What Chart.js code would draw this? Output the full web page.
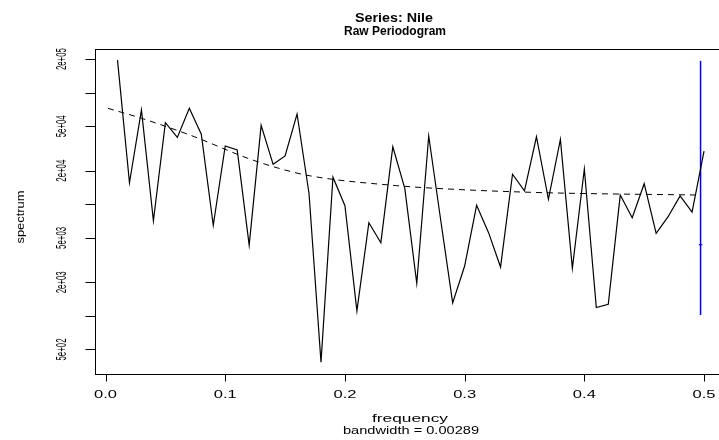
<!DOCTYPE html>
<html>
<head>
<meta charset="utf-8">
<script src="https://cdn.jsdelivr.net/npm/chart.js@4"></script>
<style>
  html, body { margin: 0; padding: 0; background: #ffffff; overflow: hidden; }
  #wrap { width: 719px; height: 440px; }
</style>
</head>
<body>
<div id="wrap"><canvas id="periodogram" width="719" height="440"></canvas></div>
<script>
// raw periodogram of the Nile series
const freq = [0.01, 0.02, 0.03, 0.04, 0.05, 0.06, 0.07, 0.08, 0.09, 0.10,
  0.11, 0.12, 0.13, 0.14, 0.15, 0.16, 0.17, 0.18, 0.19, 0.20,
  0.21, 0.22, 0.23, 0.24, 0.25, 0.26, 0.27, 0.28, 0.29, 0.30,
  0.31, 0.32, 0.33, 0.34, 0.35, 0.36, 0.37, 0.38, 0.39, 0.40,
  0.41, 0.42, 0.43, 0.44, 0.45, 0.46, 0.47, 0.48, 0.49, 0.50];
const spec = [196000, 15600, 70000, 7130, 53900, 39800, 72400, 42400, 6490, 33300,
  30700, 4310, 51000, 22800, 27100, 64400, 12500, 384, 17500, 9720,
  1110, 6840, 4530, 32800, 13900, 1960, 40900, 7230, 1310, 2800,
  9800, 5570, 2740, 18600, 13200, 40300, 11100, 38200, 2670, 20700,
  1190, 1270, 12100, 7590, 15300, 5500, 7740, 11900, 8530, 30000];

// dashed reference curve
const smoothFreq = [0.002, 0.030, 0.074, 0.119, 0.147, 0.172, 0.243, 0.293, 0.368, 0.497];
const smoothSpec = [72400, 59000, 40400, 25800, 20700, 17900, 14700, 13600, 12700, 12100];

// confidence bar
const bandwidth = 0.00289;
const ciX = 0.4971;
const ciLow = 1020;
const ciMid = 4345;
const ciHigh = 193000;

const xTicks = [0, 0.1, 0.2, 0.3, 0.4, 0.5];
const xTickLabels = ['0.0', '0.1', '0.2', '0.3', '0.4', '0.5'];
const yTicks = [500, 1000, 2000, 5000, 10000, 20000, 50000, 100000, 200000];
const yTickLabels = ['5e+02', '', '2e+03', '5e+03', '', '2e+04', '5e+04', '', '2e+05'];

const FONT = '"Liberation Sans", Arial, sans-serif';

function pts(xs, ys) {
  return xs.map((x, i) => ({x: x, y: ys[i]}));
}

// text squeezed/stretched to the length it has in the reference
function fitText(ctx, txt, x, y, size, len, bold, rotate) {
  ctx.font = (bold ? 'bold ' : '') + size + 'px ' + FONT;
  const w = ctx.measureText(txt).width;
  ctx.save();
  ctx.translate(x, y);
  if (rotate) ctx.rotate(-Math.PI / 2);
  ctx.scale(len / w, 1);
  ctx.textAlign = 'center';
  ctx.textBaseline = 'alphabetic';
  ctx.fillStyle = '#000000';
  ctx.fillText(txt, 0, 0);
  ctx.restore();
}

const rAxes = {
  id: 'rAxes',
  afterDraw(chart) {
    const ctx = chart.ctx;
    const area = chart.chartArea;
    const xs = chart.scales.x;
    const ys = chart.scales.y;
    ctx.save();
    ctx.strokeStyle = '#000000';
    ctx.lineWidth = 1;
    // box
    ctx.strokeRect(Math.round(area.left) + 0.5, Math.round(area.top) + 0.5, 640, Math.round(area.bottom - area.top));
    const bottom = Math.round(area.bottom) + 0.5;
    const left = Math.round(area.left) + 0.5;
    // x axis ticks
    ctx.beginPath();
    xTicks.forEach(v => {
      const px = Math.round(xs.getPixelForValue(v)) + 0.5;
      ctx.moveTo(px, bottom);
      ctx.lineTo(px, bottom + 7);
    });
    // y axis ticks
    yTicks.forEach(v => {
      const py = Math.round(ys.getPixelForValue(v)) + 0.5;
      ctx.moveTo(left, py);
      ctx.lineTo(left - 10, py);
    });
    ctx.stroke();
    xTicks.forEach((v, i) => {
      fitText(ctx, xTickLabels[i], xs.getPixelForValue(v), 398, 10.5, 23, false, false);
    });
    yTicks.forEach((v, i) => {
      if (yTickLabels[i]) fitText(ctx, yTickLabels[i], 66, ys.getPixelForValue(v), 15, 22, false, true);
    });
    // titles
    fitText(ctx, 'Series: Nile', 394, 22, 13, 78, true, false);
    fitText(ctx, 'Raw Periodogram', 395, 35, 13, 102, true, false);
    fitText(ctx, 'frequency', 410, 422, 10.5, 76, false, false);
    fitText(ctx, 'bandwidth = ' + bandwidth.toFixed(5), 411, 434, 10.5, 136, false, false);
    fitText(ctx, 'spectrum', 24, 217, 10.5, 53, false, true);
    ctx.restore();
  }
};

new Chart(document.getElementById('periodogram'), {
  type: 'line',
  data: {
    datasets: [{
      label: 'spectrum',
      data: pts(freq, spec),
      borderColor: '#000000',
      borderWidth: 1.2,
      pointRadius: 0,
      tension: 0,
      fill: false
    },
      {
        label: 'smooth',
        data: pts(smoothFreq, smoothSpec),
        borderColor: '#000000',
        borderWidth: 1,
        borderDash: [6, 5],
        pointRadius: 0,
        cubicInterpolationMode: 'monotone',
        fill: false
      },
      {
        label: 'ci',
        data: pts([ciX, ciX], [ciLow, ciHigh]),
        borderColor: '#0000ff',
        borderWidth: 1.5,
        pointRadius: 0,
        fill: false
      },
      {
        label: 'ci mid',
        data: pts([ciX - bandwidth / 2, ciX + bandwidth / 2], [ciMid, ciMid]),
        borderColor: '#0000ff',
        borderWidth: 1.2,
        pointRadius: 0,
        fill: false
      }]
  },
  options: {
    responsive: false,
    animation: false,
    devicePixelRatio: 1,
    layout: {
      padding: {left: 95, top: 49, right: 0, bottom: 66}
    },
    plugins: {
      legend: {display: false},
      title: {display: false},
      tooltip: {enabled: false}
    },
    scales: {
      x: {
        type: 'linear',
        display: false,
        min: -0.0088,
        max: 0.5125
      },
      y: {
        type: 'logarithmic',
        display: false,
        min: 301.6,
        max: 246400
      }
    }
  },
  plugins: [rAxes]
});
</script>
</body>
</html>
